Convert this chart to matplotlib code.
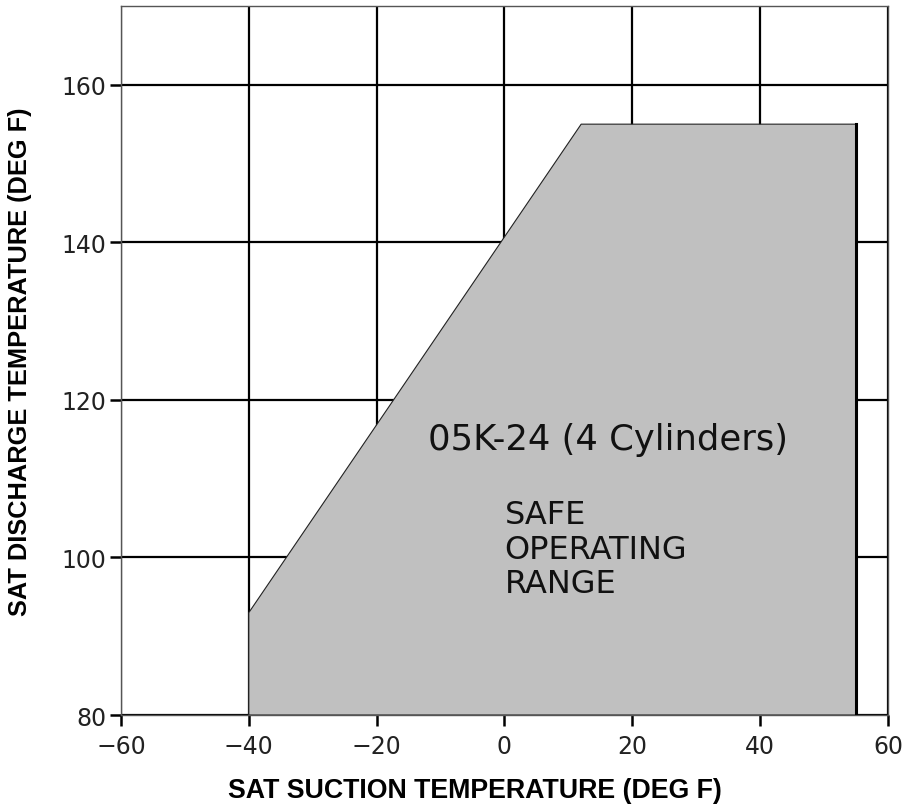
import matplotlib
matplotlib.use("Agg")
import matplotlib.pyplot as plt

# safe operating envelope (suction temp, discharge temp)
env_x = [-40, -40, 12, 55, 55]
env_y = [80, 93, 155, 155, 80]

x_ticks = [-60, -40, -20, 0, 20, 40, 60]
y_ticks = [80, 100, 120, 140, 160]

fig = plt.figure(figsize=(9.07, 8.12), dpi=100)
ax = fig.add_axes([0.1334, 0.1182, 0.8456, 0.8732])

ax.set_xlim(-60, 60)
ax.set_ylim(80, 170)
ax.set_xticks(x_ticks)
ax.set_yticks(y_ticks)

ax.grid(True, color="black", linewidth=1.6, zorder=0)
ax.set_axisbelow(True)

ax.fill(env_x, env_y, facecolor="#c0c0c0", edgecolor="#222222", linewidth=0.8, zorder=2)
ax.plot(env_x[3:5], env_y[3:5], color="black", linewidth=2.2, zorder=3)

ax.text(16.2, 113.8, "05K-24 (4 Cylinders)", fontsize=25.5,
        ha="center", va="baseline", color="#111111", zorder=4)
ax.text(0, 107.4, "SAFE\nOPERATING\nRANGE", fontsize=23,
        ha="left", va="top", linespacing=1.15, color="#111111", zorder=4)

for s in ax.spines.values():
    s.set_color("#555555")
    s.set_linewidth(1.0)
ax.tick_params(direction="out", length=8, width=1.8, color="black",
               labelsize=17, labelcolor="#222222")
ax.tick_params(axis="x", pad=6)
ax.tick_params(axis="y", pad=2.5)

ax.set_xlabel("SAT SUCTION TEMPERATURE (DEG F)", fontsize=19.3, fontweight="bold",
              family="Liberation Sans")
ax.xaxis.set_label_coords(0.462, -0.088)
ax.set_ylabel("SAT DISCHARGE TEMPERATURE (DEG F)", fontsize=18.3, fontweight="bold",
              family="Liberation Sans")
ax.yaxis.set_label_coords(-0.116, 0.5)

fig.savefig("out.png", dpi=100)
